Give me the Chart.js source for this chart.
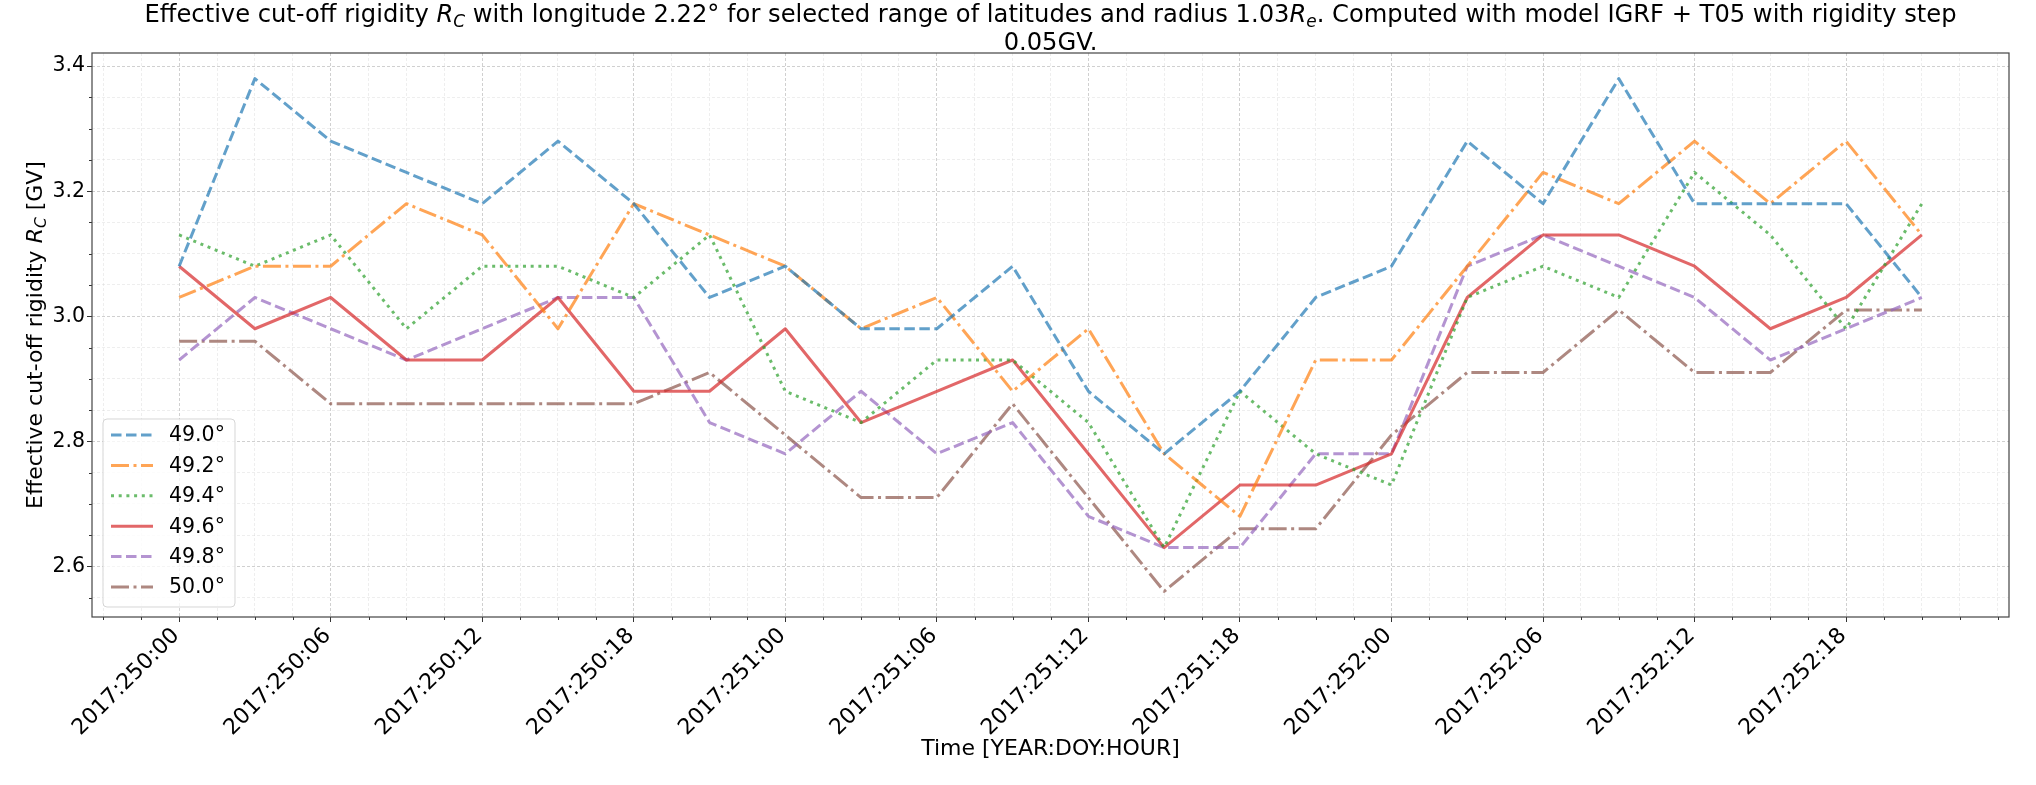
<!DOCTYPE html>
<html>
<head>
<meta charset="utf-8">
<script src="https://cdn.jsdelivr.net/npm/chart.js@4.4.1/dist/chart.umd.min.js"></script>
<style>
html,body{margin:0;padding:0;background:#ffffff;}
#wrap{width:2036px;height:785px;}
</style>
</head>
<body>
<div id="wrap"><canvas id="c" width="2036" height="785"></canvas></div>
<script>
// ---------------- data ----------------
const times = ['2017:250:00','2017:250:03','2017:250:06','2017:250:09','2017:250:12','2017:250:15','2017:250:18','2017:250:21',
               '2017:251:00','2017:251:03','2017:251:06','2017:251:09','2017:251:12','2017:251:15','2017:251:18','2017:251:21',
               '2017:252:00','2017:252:03','2017:252:06','2017:252:09','2017:252:12','2017:252:15','2017:252:18','2017:252:21'];
const tickLabels = ['2017:250:00','2017:250:06','2017:250:12','2017:250:18','2017:251:00','2017:251:06',
                    '2017:251:12','2017:251:18','2017:252:00','2017:252:06','2017:252:12','2017:252:18'];
const yTickLabels = ['2.6','2.8','3.0','3.2','3.4'];
const yMinorTicks = [2.55,2.65,2.70,2.75,2.85,2.90,2.95,3.05,3.10,3.15,3.25,3.30,3.35];
const seriesNames = ['49.0°','49.2°','49.4°','49.6°','49.8°','50.0°'];
const lat490 = [3.08,3.38,3.28,3.23,3.18,3.28,3.18,3.03,3.08,2.98,2.98,3.08,2.88,2.78,2.88,3.03,3.08,3.28,3.18,3.38,3.18,3.18,3.18,3.03];
const lat492 = [3.03,3.08,3.08,3.18,3.13,2.98,3.18,3.13,3.08,2.98,3.03,2.88,2.98,2.78,2.68,2.93,2.93,3.08,3.23,3.18,3.28,3.18,3.28,3.13];
const lat494 = [3.13,3.08,3.13,2.98,3.08,3.08,3.03,3.13,2.88,2.83,2.93,2.93,2.83,2.63,2.88,2.78,2.73,3.03,3.08,3.03,3.23,3.13,2.98,3.18];
const lat496 = [3.08,2.98,3.03,2.93,2.93,3.03,2.88,2.88,2.98,2.83,2.88,2.93,2.78,2.63,2.73,2.73,2.78,3.03,3.13,3.13,3.08,2.98,3.03,3.13];
const lat498 = [2.93,3.03,2.98,2.93,2.98,3.03,3.03,2.83,2.78,2.88,2.78,2.83,2.68,2.63,2.63,2.78,2.78,3.08,3.13,3.08,3.03,2.93,2.98,3.03];
const lat500 = [2.96,2.96,2.86,2.86,2.86,2.86,2.86,2.91,2.81,2.71,2.71,2.86,2.71,2.56,2.66,2.66,2.81,2.91,2.91,3.01,2.91,2.91,3.01,3.01];
const seriesValues = [lat490, lat492, lat494, lat496, lat498, lat500];

// ---------------- styles ----------------
const LW = 3.0;
const seriesStyles = [
  {rgb:'31,119,180',  dash:[10.5,4.5]},
  {rgb:'255,127,14',  dash:[18,4.5,3,4.5]},
  {rgb:'44,160,44',   dash:[3,4.7]},
  {rgb:'214,39,40',   dash:[]},
  {rgb:'148,103,189', dash:[10.5,4.5]},
  {rgb:'140,86,75',   dash:[18,4.5,3,4.5]}
];
const ALPHA = 0.7;
const FONT = '"DejaVu Sans", "Liberation Sans", sans-serif';

function toHours(s){ const p = s.split(':'); return (parseInt(p[1],10) - 250) * 24 + parseInt(p[2],10); }
const xs = times.map(toHours);
const majorX = tickLabels.map(toHours);
const majorY = yTickLabels.map(Number);

const allY = [].concat(...seriesValues);
const yLo = Math.min(...allY), yHi = Math.max(...allY);
const xLo = Math.min(...xs), xHi = Math.max(...xs);
const xMin = xLo - 0.05 * (xHi - xLo), xMax = xHi + 0.05 * (xHi - xLo);
const yMin = yLo - 0.05 * (yHi - yLo), yMax = yHi + 0.05 * (yHi - yLo);

const minorX = [];
for (let h = Math.ceil(xMin / 1.5) * 1.5; h <= xMax; h += 1.5) {
  if (!majorX.some(m => Math.abs(m - h) < 1e-6)) minorX.push(h);
}
const isMajorX = v => majorX.some(m => Math.abs(m - v) < 1e-6);
const isMajorY = v => majorY.some(m => Math.abs(m - v) < 1e-6);

const datasets = seriesValues.map((vals, k) => ({
  label: seriesNames[k],
  data: vals.map((v, i) => ({x: xs[i], y: v})),
  borderColor: 'rgba(' + seriesStyles[k].rgb + ',' + ALPHA + ')',
  backgroundColor: 'rgba(' + seriesStyles[k].rgb + ',' + ALPHA + ')',
  borderWidth: LW,
  borderDash: seriesStyles[k].dash,
  borderCapStyle: 'butt',
  borderJoinStyle: 'round',
  pointRadius: 0,
  pointHoverRadius: 0,
  tension: 0,
  fill: false
}));

// ---------------- rich text helpers ----------------
function segFont(s, size){ return (s.i ? 'italic ' : '') + (s.sub ? size * 0.7 : size) + 'px ' + FONT; }
function richWidth(c, segs, size){
  let w = 0;
  for (const s of segs){ c.font = segFont(s, size); w += c.measureText(s.t).width; }
  return w;
}
function drawRich(c, segs, x, y, size){
  for (const s of segs){
    c.font = segFont(s, size);
    c.fillText(s.t, x, y + (s.sub ? size * 0.2 : 0));
    x += c.measureText(s.t).width;
  }
}
const titleLine1 = [
  {t:'Effective cut-off rigidity '}, {t:'R', i:true}, {t:'C', i:true, sub:true},
  {t:' with longitude 2.22° for selected range of latitudes and radius 1.03'}, {t:'R', i:true}, {t:'e', i:true, sub:true},
  {t:'. Computed with model IGRF + T05 with rigidity step'}
];
const titleLine2 = [{t:'0.05GV.'}];
const yTitle = [{t:'Effective cut-off rigidity '}, {t:'R', i:true}, {t:'C', i:true, sub:true}, {t:' [GV]'}];

// ---------------- decoration plugin ----------------
const decor = {
  id: 'decor',
  afterDraw(chart){
    const c = chart.ctx, a = chart.chartArea;
    const sx = chart.scales.x, sy = chart.scales.y;
    c.save();
    // minor ticks
    c.strokeStyle = '#333'; c.lineWidth = 1;
    c.beginPath();
    for (const h of minorX){ const px = Math.round(sx.getPixelForValue(h)) + 0.5; c.moveTo(px, a.bottom); c.lineTo(px, a.bottom + 3); }
    for (const v of yMinorTicks){ const py = Math.round(sy.getPixelForValue(v)) + 0.5; c.moveTo(a.left, py); c.lineTo(a.left - 3, py); }
    c.stroke();
    // frame
    c.strokeStyle = '#444'; c.lineWidth = 1.2;
    c.strokeRect(a.left, a.top, a.right - a.left, a.bottom - a.top);

    // legend
    const boxL = a.left + 11, boxB = a.bottom - 10, boxW = 132, rowH = 30.4;
    const boxH = 188, boxT = boxB - boxH;
    c.beginPath();
    c.roundRect(boxL, boxT, boxW, boxH, 4);
    c.fillStyle = 'rgba(255,255,255,0.8)'; c.fill();
    c.strokeStyle = 'rgba(204,204,204,0.8)'; c.lineWidth = 1; c.stroke();
    c.textBaseline = 'middle'; c.textAlign = 'left';
    for (let k = 0; k < seriesNames.length; k++){
      const cy = boxT + 16 + rowH * k;
      c.beginPath();
      c.setLineDash(seriesStyles[k].dash);
      c.lineCap = 'butt';
      c.strokeStyle = 'rgba(' + seriesStyles[k].rgb + ',' + ALPHA + ')';
      c.lineWidth = LW;
      c.moveTo(boxL + 8, cy); c.lineTo(boxL + 50, cy);
      c.stroke();
      c.setLineDash([]);
      c.fillStyle = '#000';
      c.font = '20.5px ' + FONT;
      c.fillText(seriesNames[k], boxL + 66, cy + 1);
    }

    // title
    c.fillStyle = '#000'; c.textBaseline = 'alphabetic'; c.textAlign = 'left';
    const tSize = 24.2;
    const cx = (a.left + a.right) / 2;
    const w1 = richWidth(c, titleLine1, tSize);
    drawRich(c, titleLine1, cx - w1 / 2, 22, tSize);
    const w2 = richWidth(c, titleLine2, tSize);
    drawRich(c, titleLine2, cx - w2 / 2, 50, tSize);

    // y axis title
    const ySize = 22;
    const wy = richWidth(c, yTitle, ySize);
    c.translate(42, (a.top + a.bottom) / 2);
    c.rotate(-Math.PI / 2);
    drawRich(c, yTitle, -wy / 2, 0, ySize);
    c.restore();
  }
};

new Chart(document.getElementById('c'), {
  type: 'line',
  data: { datasets },
  plugins: [decor],
  options: {
    responsive: false,
    devicePixelRatio: 1,
    animation: false,
    events: [],
    layout: { padding: { top: 53, right: 27, bottom: 0, left: 0 } },
    plugins: {
      legend: { display: false },
      title: { display: false },
      tooltip: { enabled: false }
    },
    scales: {
      x: {
        type: 'linear',
        min: xMin, max: xMax,
        afterFit(scale){ scale.height = 168; },
        afterBuildTicks(scale){
          scale.ticks = majorX.concat(minorX).sort((p, q) => p - q).map(v => ({value: v}));
        },
        ticks: {
          autoSkip: false,
          maxRotation: 45, minRotation: 45,
          padding: 1,
          labelOffset: -3,
          color: '#000',
          font: { family: FONT, size: 22 },
          callback(v){ const i = majorX.findIndex(m => Math.abs(m - v) < 1e-6); return i >= 0 ? tickLabels[i] : ''; }
        },
        grid: {
          drawOnChartArea: true,
          drawTicks: true,
          tickLength: 5,
          lineWidth: 1,
          tickWidth: 1,
          color: ctx => isMajorX(ctx.tick.value) ? 'rgba(176,176,176,0.6)' : 'rgba(200,200,200,0.3)',
          tickColor: ctx => isMajorX(ctx.tick.value) ? '#333' : 'rgba(0,0,0,0)'
        },
        border: { display: false, dash: [3, 2] },
        title: {
          display: true,
          text: 'Time [YEAR:DOY:HOUR]',
          color: '#000',
          font: { family: FONT, size: 22 },
          padding: { top: 0, bottom: 23 }
        }
      },
      y: {
        type: 'linear',
        min: yMin, max: yMax,
        afterFit(scale){ scale.width = 92; },
        afterBuildTicks(scale){
          scale.ticks = majorY.concat(yMinorTicks).sort((p, q) => p - q).map(v => ({value: v}));
        },
        ticks: {
          autoSkip: false,
          padding: 2,
          color: '#000',
          font: { family: FONT, size: 20.5 },
          callback(v){ const i = majorY.findIndex(m => Math.abs(m - v) < 1e-6); return i >= 0 ? yTickLabels[i] : ''; }
        },
        grid: {
          drawOnChartArea: true,
          drawTicks: true,
          tickLength: 5,
          lineWidth: 1,
          tickWidth: 1,
          color: ctx => isMajorY(ctx.tick.value) ? 'rgba(176,176,176,0.6)' : 'rgba(200,200,200,0.3)',
          tickColor: ctx => isMajorY(ctx.tick.value) ? '#333' : 'rgba(0,0,0,0)'
        },
        border: { display: false, dash: [3, 2] }
      }
    }
  }
});
</script>
</body>
</html>
